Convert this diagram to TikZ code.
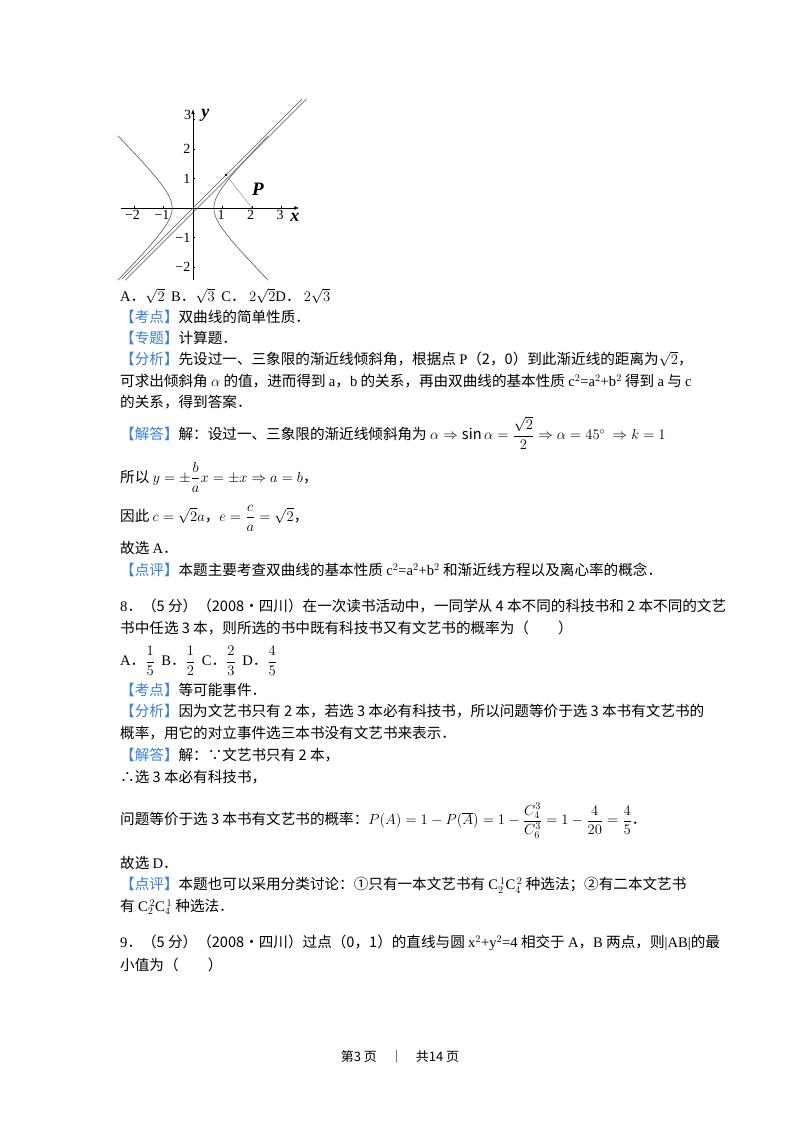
\RequirePackage{fix-cm}
\documentclass[tikz,border=0pt]{standalone}
\usepackage{amsmath,amssymb}
\usepackage{fontspec}
\setmainfont{Noto Sans CJK SC}
\newfontfamily\latf{Liberation Serif}
\definecolor{lab}{HTML}{3C7FD6}
\newcommand{\lb}[1]{\textcolor{lab}{【#1】}}
\newcommand{\lt}[1]{{\latf #1}}
\begin{document}
\begin{tikzpicture}[x=1pt,y=-1pt,
  tx/.style={anchor=west,inner sep=0pt,font=\fontsize{14.6}{18}\selectfont},
  tk/.style={font=\fontsize{14}{14}\selectfont\latf,inner sep=1pt},
  ax/.style={line width=0.7pt,-latex},
  cv/.style={line width=0.6pt,gray!70!black}]
\useasboundingbox[fill=white] (0,0) rectangle (800,1132);
% graph
\begin{scope}[shift={(193,208)},x=29.5pt,y=29.5pt]
\draw[ax] (-2.45,0) -- (3.6,0);
\draw[ax] (0,-2.45) -- (0,3.35);
\foreach \v in {-2,-1,1,2,3}{\draw (\v,0)--(\v,0.08); \draw (0,\v)--(0.08,\v);}
\foreach \v/\l in {-2/−2,-1/−1,1/1,2/2,3/3}{
  \node[tk,anchor=north] at (\v-0.05,-0.05) {\l};}
\foreach \v/\l in {-2/−2,-1/−1,1/1,2/2}{
  \node[tk,left] at (-0.05,\v) {\l};}
\node[tk,left] (t3) at (-0.02,3.15) {3};
\node[font=\fontsize{18}{18}\selectfont\latf\bfseries\itshape] (ylab) at (0.42,3.15) {y};
\node[font=\fontsize{18}{18}\selectfont\latf\bfseries\itshape] (xlab) at (3.45,-0.32) {x};
\node[font=\fontsize{19}{19}\selectfont\latf\bfseries\itshape] (plab) at (2.2,0.62) {P};
\draw[cv] plot[domain=-2.45:2.45,samples=60] ({sqrt(0.5+\x*\x)},\x);
\draw[cv] plot[domain=-2.45:2.45,samples=60] ({-sqrt(0.5+\x*\x)},\x);
\draw[cv] (-2.4,-2.4) -- (3.7,3.7);
\draw[cv] (-2.3,-2.45) -- (3.85,3.7);
\coordinate (P) at (2,0);
\coordinate (F) at (1.2,1.02);
\draw[gray,line width=0.4pt] (P) -- (F);
\fill (1.12,1.12) circle (1.3pt);
\end{scope}
% text
\node[tx] at (120,296) {\lt{A}．$\sqrt{2}$\ \ \lt{B}．$\sqrt{3}$\ \ \lt{C}．\ $2\sqrt{2}$\lt{D}．\ $2\sqrt{3}$};
\node[tx] at (120,317) {\lb{考点}双曲线的简单性质．};
\node[tx] at (120,338) {\lb{专题}计算题．};
\node[tx] at (120,359) {\lb{分析}先设过一、三象限的渐近线倾斜角，根据点 \lt{P}（2，0）到此渐近线的距离为$\sqrt{2}$，};
\node[tx] at (120,381) {可求出倾斜角 $\alpha$ 的值，进而得到 \lt{a}，\lt{b} 的关系，再由双曲线的基本性质 \lt{c$^2$=a$^2$+b$^2$} 得到 \lt{a} 与 \lt{c}};
\node[tx] at (120,402) {的关系，得到答案．};
\node[tx] at (120,433) {\lb{解答}解：设过一、三象限的渐近线倾斜角为 $\alpha\Rightarrow\sin\alpha=\dfrac{\sqrt{2}}{2}\Rightarrow\alpha=45^\circ\ \Rightarrow k=1$};
\node[tx] at (120,477) {所以 $y=\pm\dfrac{b}{a}x=\pm x\Rightarrow a=b$，};
\node[tx] at (120,518) {因此 $c=\sqrt{2}a$，$e=\dfrac{c}{a}=\sqrt{2}$，};
\node[tx] at (120,548) {故选 \lt{A}．};
\node[tx] at (120,570) {\lb{点评}本题主要考查双曲线的基本性质 \lt{c$^2$=a$^2$+b$^2$} 和渐近线方程以及离心率的概念．};
\node[tx] at (120,606) {\lt{8}．（5 分）（2008•四川）在一次读书活动中，一同学从 4 本不同的科技书和 2 本不同的文艺};
\node[tx] at (120,628) {书中任选 3 本，则所选的书中既有科技书又有文艺书的概率为（\qquad{}）};
\node[tx] at (120,661) {\lt{A}．$\dfrac15$\ \ \lt{B}．$\dfrac12$\ \ \lt{C}．$\dfrac23$\ \ \lt{D}．$\dfrac45$};
\node[tx] at (120,690) {\lb{考点}等可能事件．};
\node[tx] at (120,711) {\lb{分析}因为文艺书只有 2 本，若选 3 本必有科技书，所以问题等价于选 3 本书有文艺书的};
\node[tx] at (120,733) {概率，用它的对立事件选三本书没有文艺书来表示．};
\node[tx] at (120,755) {\lb{解答}解：∵文艺书只有 2 本，};
\node[tx] at (120,777) {∴选 3 本必有科技书，};
\node[tx] at (120,821) {问题等价于选 3 本书有文艺书的概率：$P(A)=1-P(\overline{A})=1-\dfrac{C_4^3}{C_6^3}=1-\dfrac{4}{20}=\dfrac45$．};
\node[tx] at (120,863) {故选 \lt{D}．};
\node[tx] at (120,885) {\lb{点评}本题也可以采用分类讨论：①只有一本文艺书有 \lt{C$_2^{\,1}$C$_4^{\,2}$} 种选法；②有二本文艺书};
\node[tx] at (120,907) {有 \lt{C$_2^{\,2}$C$_4^{\,1}$} 种选法．};
\node[tx] at (120,943) {\lt{9}．（5 分）（2008•四川）过点（0，1）的直线与圆 \lt{x$^2$+y$^2$=4} 相交于 \lt{A}，\lt{B} 两点，则\lt{|AB|}的最};
\node[tx] at (120,965) {小值为（\qquad{}）};
\node[tx,anchor=center,font=\fontsize{13}{16}\selectfont] at (400,1057) {第3 页\quad{}｜\quad{}共14 页};
\end{tikzpicture}
\end{document}
